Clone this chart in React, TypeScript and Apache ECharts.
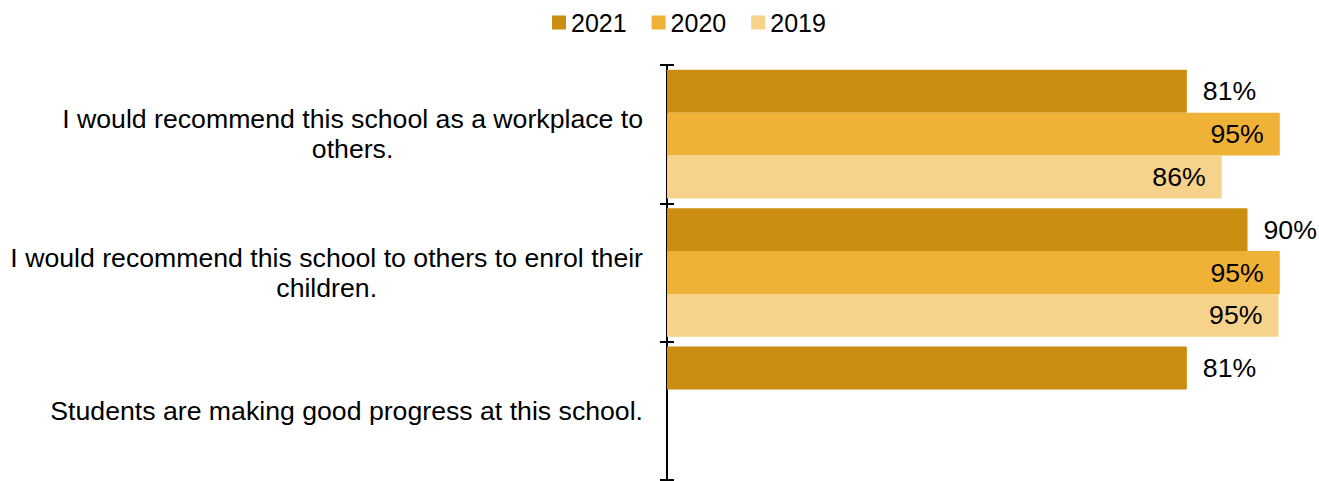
import React, { useEffect, useRef } from "react";
import * as echarts from "echarts";

const categories = [
  "I would recommend this school as a workplace to\nothers.",
  "I would recommend this school to others to enrol their\nchildren.",
  "Students are making good progress at this school.",
];
const seriesNames = ["2021", "2020", "2019"];
const values2021 = [80.6, 90.0, 80.6];
const values2020 = [95.0, 95.0, null];
const values2019 = [86.0, 94.8, null];
const colors = ["#CC8E11", "#F0B236", "#F6D28A"];

const FONT = 'Arial, "Liberation Sans", sans-serif';
const FS = 26.67;

export default function App() {
  const ref = useRef<HTMLDivElement>(null);
  useEffect(() => {
    if (!ref.current) return;
    const chart = echarts.init(ref.current, null, { renderer: "svg" });
    const data = [values2021, values2020, values2019];
    const labelPos = ["right", "insideRight", "insideRight"];
    chart.setOption({
      animation: false,
      textStyle: { fontFamily: FONT },
      legend: {
        data: seriesNames,
        left: 552,
        top: 10,
        padding: 0,
        icon: "rect",
        itemWidth: 14,
        itemHeight: 14,
        itemGap: 25,
        textStyle: { fontSize: 25, color: "#000", fontFamily: FONT, padding: [0, 0, 5, 0] },
      },
      grid: { left: 667, right: 7, top: 65, bottom: 1, containLabel: false },
      xAxis: { type: "value", min: 0, max: 100, show: false },
      yAxis: [
        {
          type: "category",
          data: categories,
          inverse: true,
          axisLine: { show: true, lineStyle: { color: "#000", width: 2 } },
          axisTick: { show: true, length: 7, lineStyle: { color: "#000", width: 2 } },
          axisLabel: {
            margin: 24,
            fontSize: FS,
            lineHeight: 30,
            color: "#000",
            fontFamily: FONT,
            align: "right",
            formatter: (v: string) =>
              v
                .split("\n")
                .map((l) => "{c|" + l + "}")
                .join("\n"),
            rich: {
              c: {
                align: "center",
                fontSize: FS,
                lineHeight: 30,
                color: "#000",
                fontFamily: FONT,
              },
            },
          },
        },
        {
          type: "category",
          data: categories,
          inverse: true,
          position: "left",
          axisLine: { show: false },
          axisTick: { show: true, inside: true, length: 7, lineStyle: { color: "#000", width: 2 } },
          axisLabel: { show: false },
        },
      ],
      series: seriesNames.map((name, i) => ({
        name,
        type: "bar",
        data: data[i],
        itemStyle: { color: colors[i] },
        barGap: "0%",
        barCategoryGap: "7%",
        label: {
          show: true,
          position: labelPos[i],
          distance: 16,
          fontSize: FS,
          color: "#000",
          fontFamily: FONT,
          formatter: (p: any) => Math.round(p.value) + "%",
        },
      })),
    });
    return () => chart.dispose();
  }, []);
  return (
    <div
      ref={ref}
      style={{ position: "absolute", left: 0, top: 0, width: 1319, height: 481 }}
    />
  );
}
